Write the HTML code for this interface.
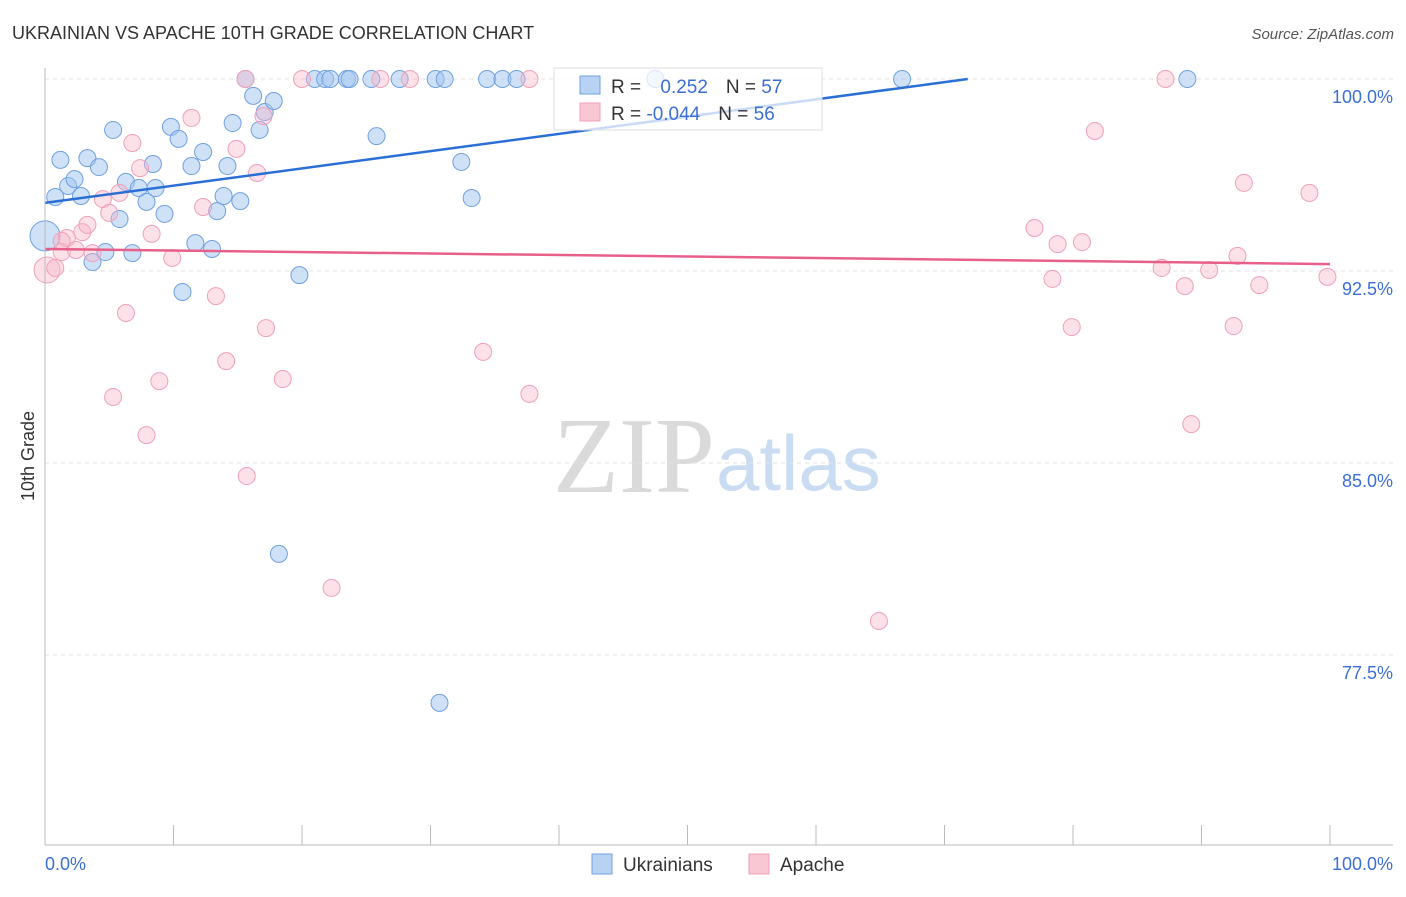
<!DOCTYPE html>
<html><head><meta charset="utf-8"><style>
body{margin:0;background:#fff;font-family:"Liberation Sans",sans-serif}
</style></head><body>
<svg id="chart" width="1406" height="892" xmlns="http://www.w3.org/2000/svg" style="font-family:'Liberation Sans',sans-serif">
<text x="12" y="39" font-size="18" fill="#333">UKRAINIAN VS APACHE 10TH GRADE CORRELATION CHART</text>
<text x="1394" y="39" font-size="15" fill="#555" text-anchor="end" font-style="italic">Source: ZipAtlas.com</text>
<text x="553" y="492" font-size="108" fill="#dadada" font-family="Liberation Serif,serif">ZIP</text>
<text x="716" y="490" font-size="78" fill="#cadcf2">atlas</text>
<g id="grid"></g><g id="ticks"></g><g id="pts"></g><g id="lines"></g>
<line x1="45" y1="68" x2="45" y2="845" stroke="#bbb"/>
<line x1="45" y1="845" x2="1393" y2="845" stroke="#bbb"/>
<text x="34" y="456" font-size="18" fill="#333" transform="rotate(-90 34 456)" text-anchor="middle">10th Grade</text>
<text x="45" y="870" font-size="18" fill="#3b6fd4">0.0%</text>
<text x="1393" y="870" font-size="18" fill="#3b6fd4" text-anchor="end">100.0%</text>
<g>
<rect x="554" y="68" width="268" height="62" fill="#fff" fill-opacity="0.75" stroke="#ddd"/>
<rect x="580" y="76" width="20" height="18" fill="#b8d2f4" stroke="#6fa0e0"/>
<rect x="580" y="103" width="20" height="18" fill="#f9c6d4" stroke="#f0a0b8"/>
<text x="611" y="93" font-size="19" fill="#333">R = <tspan fill="#3b6fd4" dx="14">0.252</tspan><tspan dx="18" fill="#333">N = </tspan><tspan fill="#3b6fd4">57</tspan></text>
<text x="611" y="120" font-size="19" fill="#333">R = <tspan fill="#3b6fd4">-0.044</tspan><tspan dx="18" fill="#333">N = </tspan><tspan fill="#3b6fd4">56</tspan></text>
</g>
<g>
<rect x="592" y="854" width="20" height="20" fill="#b8d2f4" stroke="#6fa0e0"/>
<text x="623" y="871" font-size="19" fill="#333">Ukrainians</text>
<rect x="749" y="854" width="20" height="20" fill="#f9c6d4" stroke="#f0a0b8"/>
<text x="780" y="871" font-size="19" fill="#333">Apache</text>
</g>
</svg>
<script>
const yTicks=[100,92.5,85,77.5];
const yTickLabels=["100.0%","92.5%","85.0%","77.5%"];
const blueX=[0.8,1.2,1.8,2.3,2.8,3.3,3.7,4.2,4.7,5.3,5.8,6.3,6.8,7.3,7.9,8.4,8.6,9.3,9.8,10.4,10.7,11.4,11.7,12.3,13.0,13.4,13.9,14.2,14.6,15.2,15.6,16.2,16.7,17.1,17.8,18.2,19.8,21.0,21.8,22.2,23.5,23.7,25.4,25.8,27.6,30.4,31.1,30.7,32.4,33.2,34.4,35.6,36.7,47.5,66.7,88.9,0];
const blueY=[95.39,96.84,95.82,96.09,95.43,96.91,92.85,96.56,93.24,98.01,94.53,95.98,93.2,95.74,95.2,96.68,95.74,94.73,98.13,97.66,91.68,96.6,93.59,97.15,93.36,94.84,95.43,96.6,98.28,95.23,100,99.34,98.01,98.71,99.14,81.45,92.34,100,100,100,100,100,100,97.77,100,100,100,75.63,96.76,95.35,100,100,100,100,100,100,93.87];
const pinkX=[0.16,0.8,1.3,1.7,2.4,2.9,3.3,3.7,4.5,5.0,5.3,5.8,6.3,6.8,7.4,7.9,8.3,8.9,9.9,11.4,12.3,13.3,14.1,14.9,15.6,15.7,16.5,17.0,17.2,18.5,20.0,22.3,26.1,28.4,34.1,37.7,37.7,64.9,77.0,78.4,78.8,79.9,80.7,81.7,86.9,87.2,88.7,89.2,90.6,92.5,92.8,93.3,94.5,98.4,99.8,1.3];
const pinkY=[92.54,92.62,93.24,93.79,93.32,94.02,94.3,93.2,95.31,94.77,87.58,95.55,90.86,97.5,96.52,86.09,93.95,88.2,93.01,98.48,95,91.52,88.98,97.27,100,84.49,96.33,98.55,90.27,88.28,100,80.12,100,100,89.34,100,87.7,78.83,94.18,92.19,93.55,90.31,93.63,97.97,92.62,100,91.91,86.52,92.54,90.35,93.09,95.94,91.95,95.55,92.27,93.67];
const blueTrend=[95.16,101.9];
const pinkTrend=[93.36,92.77];
const NS="http://www.w3.org/2000/svg";
const X=v=>45+v*12.85;
const Y=v=>79+(100-v)*25.6;
function mk(t,a,p){const e=document.createElementNS(NS,t);for(const k in a)e.setAttribute(k,a[k]);document.getElementById(p).appendChild(e);return e;}
yTicks.forEach((t,i)=>{
 const g=mk('line',{x1:45,x2:1393,y1:Y(t),y2:Y(t),stroke:'#e2e2e2','stroke-dasharray':'4,4'},'grid');
 
 
 const l=mk('text',{x:1393,y:Y(t)+24,'font-size':18,fill:'#3b6fd4','text-anchor':'end'},'grid');
 l.textContent=yTickLabels[i];
 
 
});
for(let i=0;i<=10;i++){
 const t=mk('line',{x1:X(i*10),x2:X(i*10),y1:825,y2:845,stroke:'#bbb'},'ticks');
 
 
}
blueX.forEach((x,i)=>{
 const c=mk('circle',{cx:X(x),cy:Y(blueY[i]),r:i==blueX.length-1?15:8.5,fill:'rgba(160,196,240,0.5)',stroke:'#6fa0e0','stroke-width':1},'pts');
 
 
});
pinkX.forEach((x,i)=>{
 const c=mk('circle',{cx:X(x),cy:Y(pinkY[i]),r:i==0?13:8.5,fill:'rgba(248,180,200,0.4)',stroke:'#f0a0b8','stroke-width':1},'pts');
 
 
});
const bx=(100-blueTrend[0])/(blueTrend[1]-blueTrend[0])*100;
const bl=mk('line',{x1:X(0),y1:Y(blueTrend[0]),x2:X(bx),y2:Y(100),stroke:'#2a6fd6','stroke-width':2.5},'lines');


const pl=mk('line',{x1:X(0),y1:Y(pinkTrend[0]),x2:X(100),y2:Y(pinkTrend[1]),stroke:'#e8608a','stroke-width':2.5},'lines');


</script>
</body></html>
